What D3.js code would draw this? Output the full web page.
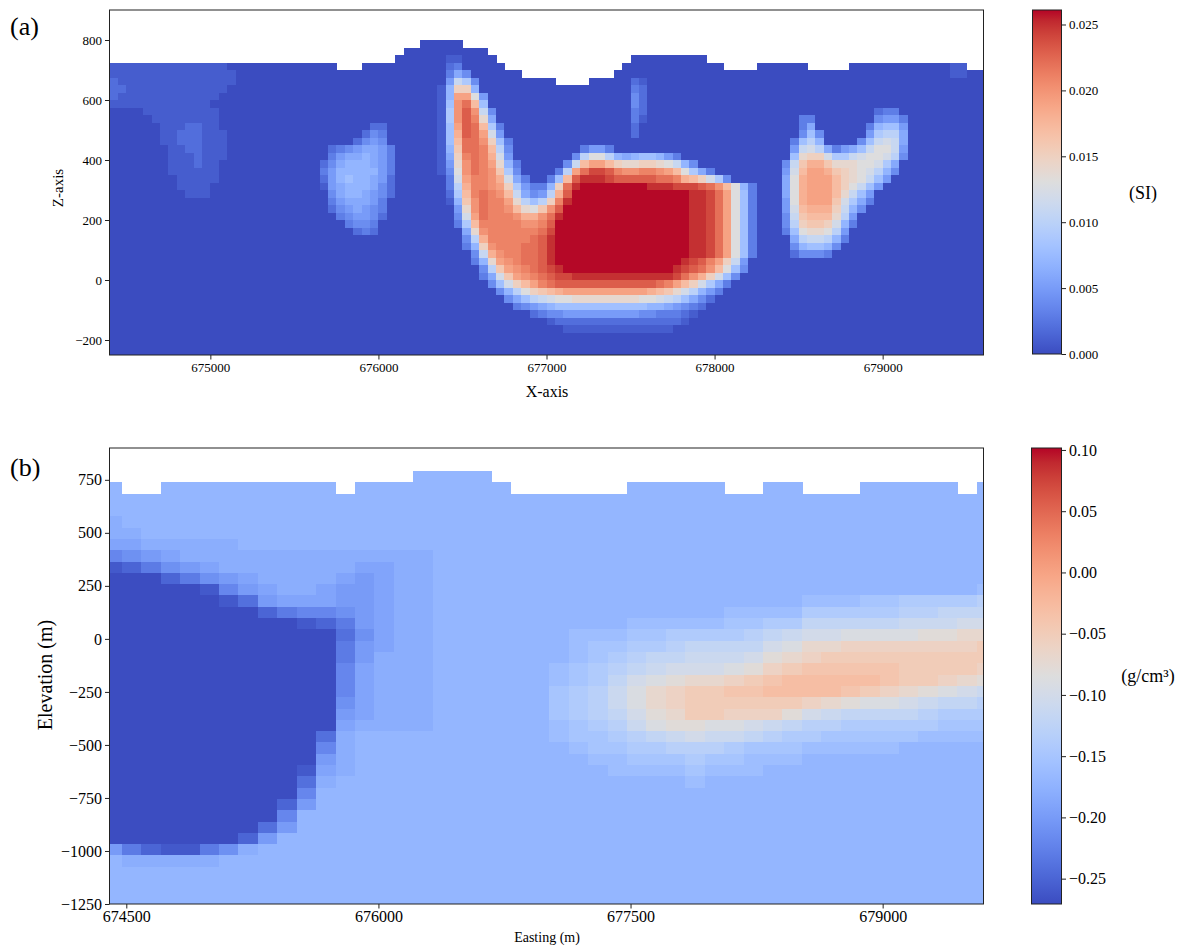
<!DOCTYPE html>
<html>
<head>
<meta charset="utf-8">
<script src="https://cdn.jsdelivr.net/npm/d3@7"></script>
<style>
body { margin: 0; background: #fff; }
text { font-family: "Liberation Serif", "Times New Roman", serif; fill: #000; }
</style>
</head>
<body>
<svg width="1187" height="947"></svg>
<script>
// ---- data ----

// (a) susceptibility section: 50 m x 25 m cells, rows from z = 800 m downward
// one character per cell, value = index * 0.001 SI
var susCodes = "0123456789abcdefghijklmnopq";
var susX0 = 674400, susDx = 50, susZ0 = 800, susDz = 25;
// surface elevation per column (m)
var susTopo = [725,725,725,725,725,725,725,725,725,725,725,725,725,725,725,725,725,725,725,725,
  725,725,725,725,725,725,725,700,700,700,725,725,725,725,750,775,775,800,800,800,
  800,800,775,775,775,750,725,700,700,675,675,675,675,650,650,650,650,675,675,675,
  700,725,750,750,750,750,750,750,750,750,750,725,725,700,700,700,700,725,725,725,
  725,725,725,700,700,700,700,700,725,725,725,725,725,725,725,725,725,725,725,725,
  725,725,700,700];
var susRows = [
  "0000000000 0000000000 0000000000 0000000000 0000000000 0000000000 0000000000 0000000000 0000000000 0000000000 0000",
  "0000000000 0000000000 0000000000 0000000000 0000000000 0000000000 0000000000 0000000000 0000000000 0000000000 0000",
  "0000000000 0000000000 0000000000 0000000000 1100000000 0000000000 0000000000 0000000000 0000000000 0000000000 0000",
  "1111111111 1111000000 0000000000 0000000000 2300000000 0000000000 0000000000 0000000000 0000000000 0000000000 1100",
  "1111111111 1111100000 0000000000 0000000000 3640000000 0000000000 0000000000 0000000000 0000000000 0000000000 1100",
  "2111111111 1111100000 0000000000 0000000000 5b94000000 0000000000 0021000000 0000000000 0000000000 0000000000 0000",
  "2211111111 1111000000 0000000000 0000000001 7ff7000000 0000000000 0032000000 0000000000 0000000000 0000000000 0000",
  "2111111111 1110000000 0000000000 0000000001 7jjd500000 0000000000 0042000000 0000000000 0000000000 0000000000 0000",
  "1111111111 1100000000 0000000000 0000000001 8kmh800000 0000000000 0042000000 0000000000 0000000000 0000000000 0000",
  "0000111111 1110000000 0000000000 0000000001 9knkb40000 0000000000 0032000000 0000000000 0000000000 0233000000 0000",
  "0000011111 1110000000 0000000000 0000000001 9knle60000 0000000000 0031000000 0000000000 0033000000 0455300000 0000",
  "0000001112 2110000000 0000000000 0220000001 8jnmh93000 0000000000 0020000000 0000000000 0036000000 3788500000 0000",
  "0000001122 2111000000 0000000000 2430000001 8inmjc5000 0000000000 0020000000 0000000000 0048400000 59aa600000 0000",
  "0000001122 2111000000 0000000002 4540000001 8hmmkf8300 0000000000 0000000000 0000000000 038a700004 8bcb600000 0000",
  "0000000112 2111000000 0000002345 6653000001 7gmmlha400 0000003553 0000000000 0000000000 05bca63568 bddb500000 0000",
  "0000000111 2111000000 0000003566 7653000001 6flmlic500 000004adda 7678875300 0000000000 08effc99bc ddca400000 0000",
  "0000000111 2110000000 0000024677 7653000001 5ekmlje730 00004bhjjh feeffedb74 0000000000 4bgiigeeed dc96000000 0000",
  "0000000111 1110000000 0000035777 7753000001 4dkmlkg940 0003ajmoon lkkllkjhd9 6300000000 5chjjigfed ca74000000 0000",
  "0000000011 1110000000 0000025787 7652000000 3cjllkic63 0038hnpppo nnnnnmmlih fc94000000 6dijjjhfed b850000000 0000",
  "0000000011 1100000000 0000015677 7642000000 3aillkjf95 337fmpqqqq qqqqpppooo nmkhd73000 6dijjjhfdb 8500000000 0000",
  "0000000001 1100000000 0000004677 6542000000 29hlmlkhb6 45ainqqqqq qqqqqqqqqp pomjd83000 6dijjjheb8 5000000000 0000",
  "0000000000 0000000000 0000003566 6530000000 17gkmlljea 8aflpqqqqq qqqqqqqqqp pomjd83000 5dijjjgc96 3000000000 0000",
  "0000000000 0000000000 0000002456 5430000000 05ekmllkhe dgknqqqqqq qqqqqqqqqp pomjd83000 5chiiifb74 0000000000 0000",
  "0000000000 0000000000 0000000345 5420000000 04cjmlllki ikmpqqqqqq qqqqqqqqqp pomjd83000 4bghhhea50 0000000000 0000",
  "0000000000 0000000000 0000000034 4300000000 039hlllllk klnqqqqqqq qqqqqqqqqp pomjd83000 4afggfc730 0000000000 0000",
  "0000000000 0000000000 0000000002 3200000000 006eklllll lmoqqqqqqq qqqqqqqqqp pomjd83000 38deeda500 0000000000 0000",
  "0000000000 0000000000 0000000000 0000000000 004ailllll mnpqqqqqqq qqqqqqqqqp pomjd83000 06abba7300 0000000000 0000",
  "0000000000 0000000000 0000000000 0000000000 0037fklllm mnpqqqqqqq qqqqqqqqqp pomjd83000 0478874000 0000000000 0000",
  "0000000000 0000000000 0000000000 0000000000 0004bikllm mnpqqqqqqq qqqqqqqqqp pomjd83000 0244430000 0000000000 0000",
  "0000000000 0000000000 0000000000 0000000000 00037ejklm mnpqqqqqqq qqqqqqqqpo nljfb50000 0000000000 0000000000 0000",
  "0000000000 0000000000 0000000000 0000000000 00004agjkl mnopqqqqqq qqqqqqqpon mkhd840000 0000000000 0000000000 0000",
  "0000000000 0000000000 0000000000 0000000000 000036cgjk lmnooppppp pppppppomk ifc8400000 0000000000 0000000000 0000",
  "0000000000 0000000000 0000000000 0000000000 0000048cfh jlmnnnnnnn nnnnnmljhf c963000000 0000000000 0000000000 0000",
  "0000000000 0000000000 0000000000 0000000000 00000047ad fghijjjjjj jjjjihgeca 7530000000 0000000000 0000000000 0000",
  "0000000000 0000000000 0000000000 0000000000 0000000468 abcddeeeee eeeddcba86 4200000000 0000000000 0000000000 0000",
  "0000000000 0000000000 0000000000 0000000000 0000000034 5678888888 8888776543 2000000000 0000000000 0000000000 0000",
  "0000000000 0000000000 0000000000 0000000000 0000000000 2344555555 5554433321 0000000000 0000000000 0000000000 0000",
  "0000000000 0000000000 0000000000 0000000000 0000000000 0012222222 2222222210 0000000000 0000000000 0000000000 0000",
  "0000000000 0000000000 0000000000 0000000000 0000000000 0000111111 1111111000 0000000000 0000000000 0000000000 0000",
  "0000000000 0000000000 0000000000 0000000000 0000000000 0000000000 0000000000 0000000000 0000000000 0000000000 0000",
  "0000000000 0000000000 0000000000 0000000000 0000000000 0000000000 0000000000 0000000000 0000000000 0000000000 0000",
  "0000000000 0000000000 0000000000 0000000000 0000000000 0000000000 0000000000 0000000000 0000000000 0000000000 0000"
];

// (b) density contrast section: ~115.6 m x 53.3 m cells, rows from z = 791 m downward
// one character per cell, value = -0.27 + index * 0.01 g/cm3
var denCodes = "0123456789abcdefghijklmnopqrstuvwxyz";
var denX0 = 674358, denDx = 115.6, denZ0 = 791, denDz = 53.3;
var denTopo = [738,684,684,738,738,738,738,738,738,738,738,738,684,738,738,738,791,791,791,791,
  738,684,684,684,684,684,684,738,738,738,738,738,684,684,738,738,684,684,684,738,
  738,738,738,738,684,738];
var denRows = [
  "aaaaaaaaaa aaaaaaaaaa aaaaaaaaaa aaaaaaaaaa aaaaaa",
  "aaaaaaaaaa aaaaaaaaaa aaaaaaaaaa aaaaaaaaaa aaaaaa",
  "aaaaaaaaaa aaaaaaaaaa aaaaaaaaaa aaaaaaaaaa aaaaaa",
  "aaaaaaaaaa aaaaaaaaaa aaaaaaaaaa aaaaaaaaaa aaaaaa",
  "9aaaaaaaaa aaaaaaaaaa aaaaaaaaaa aaaaaaaaaa aaaaaa",
  "99aaaaaaaa aaaaaaaaaa aaaaaaaaaa aaaaaaaaaa aaaaaa",
  "8899999aaa aaaaaaaaaa aaaaaaaaaa aaaaaaaaaa aaaaaa",
  "5678999999 9999999aaa aaaaaaaaaa aaaaaaaaaa aaaaaa",
  "1246789999 9998899aaa aaaaaaaaaa aaaaaaaaaa aaaaaa",
  "0002467899 9987899aaa aaaaaaaaaa aaaaaaaaaa aaaaaa",
  "0000015789 9877899aaa aaaaaaaaaa aaaaaaaaaa aaaaab",
  "0000001378 8877899aaa aaaaaaaaaa aaaaaabbbc cdddde",
  "0000000024 5567899aaa aaaaaaaaaa aabbbbdddd deefff",
  "0000000000 1247899aaa aaaaaaabbb bbccddffff fggghh",
  "0000000000 0036899aaa aaaabbbccd dddefghhii iijjkk",
  "0000000000 0047899aaa aaaabccdde ffffhikkll lllllm",
  "0000000000 0047999aaa aaaabcdeff ggghjklmmm mmmmmm",
  "0000000000 0058999aaa aaabcdefgh hhijlmnnnn nmmmml",
  "0000000000 0058999aaa aaabcdfhij kklmnooooo nmmlkj",
  "0000000000 0058999aaa aaacdegikl mmnnoooonm lkjihg",
  "0000000000 0068999aaa aaacdegikl mmmmmmlkji ihgffe",
  "0000000000 0078999aaa aaacdefhjk mmllljhgff ffeddd",
  "0000000000 0089999aaa aaabcdegij jiihgfeedd dddccc",
  "0000000000 039aaaaaaa aaabccdefg hggfeddccc ccbbbb",
  "0000000000 059aaaaaaa aaaabccdde eedcccbbbb baaaaa",
  "0000000000 079aaaaaaa aaaaabbccc dccbbbaaaa aaaaaa",
  "0000000000 189aaaaaaa aaaaaabbbb cbbbaaaaaa aaaaaa",
  "0000000000 39aaaaaaaa aaaaaaaaaa baaaaaaaaa aaaaaa",
  "0000000000 5aaaaaaaaa aaaaaaaaaa aaaaaaaaaa aaaaaa",
  "0000000002 7aaaaaaaaa aaaaaaaaaa aaaaaaaaaa aaaaaa",
  "0000000005 aaaaaaaaaa aaaaaaaaaa aaaaaaaaaa aaaaaa",
  "0000000037 aaaaaaaaaa aaaaaaaaaa aaaaaaaaaa aaaaaa",
  "000000027a aaaaaaaaaa aaaaaaaaaa aaaaaaaaaa aaaaaa",
  "74211469aa aaaaaaaaaa aaaaaaaaaa aaaaaaaaaa aaaaaa",
  "a99999aaaa aaaaaaaaaa aaaaaaaaaa aaaaaaaaaa aaaaaa",
  "aaaaaaaaaa aaaaaaaaaa aaaaaaaaaa aaaaaaaaaa aaaaaa",
  "aaaaaaaaaa aaaaaaaaaa aaaaaaaaaa aaaaaaaaaa aaaaaa",
  "aaaaaaaaaa aaaaaaaaaa aaaaaaaaaa aaaaaaaaaa aaaaaa",
  "aaaaaaaaaa aaaaaaaaaa aaaaaaaaaa aaaaaaaaaa aaaaaa"
];

var xTicksA = [675000, 676000, 677000, 678000, 679000];
var zTicksA = [-200, 0, 200, 400, 600, 800];
var cbTicksA = [0, 0.005, 0.010, 0.015, 0.020, 0.025];
var xTicksB = [674500, 676000, 677500, 679000];
var zTicksB = [-1250, -1000, -750, -500, -250, 0, 250, 500, 750];
var cbTicksB = [-0.25, -0.20, -0.15, -0.10, -0.05, 0.00, 0.05, 0.10];

// matplotlib "coolwarm"
var coolwarm = ["#3b4cc0","#445acc","#4d68d7","#5775e1","#6282ea","#6c8ef1","#779af7","#82a5fb",
  "#8db0fe","#98b9ff","#a3c2ff","#aec9fd","#b8d0f9","#c2d5f4","#ccd9ee","#d5dbe6","#dddddd",
  "#e5d8d1","#ecd3c5","#f1ccb8","#f5c4ac","#f7bba0","#f7b194","#f7a687","#f49a7b","#f18d6f",
  "#ec7f63","#e57058","#de604d","#d55042","#cb3e38","#c0282f","#b40426"];

// ---- drawing ----
var svg = d3.select("svg");
var defs = svg.append("defs");

function cmap(lo, hi) {
  return d3.scaleLinear()
    .domain(coolwarm.map(function(c, i) { return lo + (hi - lo) * i / (coolwarm.length - 1); }))
    .range(coolwarm)
    .clamp(true);
}

function toCells(rows, topo, x0, dx, z0, dz, decode) {
  var out = [];
  rows.forEach(function(row, i) {
    var chars = row.replace(/ /g, "").split("");
    if (chars.length !== topo.length) console.error("row " + i + " has " + chars.length + " cells");
    chars.forEach(function(ch, j) {
      var top = z0 - i * dz;
      if (top > topo[j] + 1) return;
      out.push({ x0: x0 + j * dx, x1: x0 + (j + 1) * dx, top: top, bot: top - dz, v: decode(ch) });
    });
  });
  return out;
}

function styleAxis(g, size) {
  g.select(".domain").remove();
  g.selectAll(".tick line").attr("stroke", "#222").attr("stroke-width", 1);
  g.selectAll(".tick text").attr("fill", "#000")
    .style("font-family", "'Liberation Serif', serif").style("font-size", size + "px");
}

function drawPanel(id, cells, x, z, color) {
  var x0 = x.range()[0], x1 = x.range()[1], y0 = z.range()[1], y1 = z.range()[0];
  defs.append("clipPath").attr("id", id).append("rect")
    .attr("x", x0).attr("y", y0).attr("width", x1 - x0).attr("height", y1 - y0);

  svg.append("g").attr("clip-path", "url(#" + id + ")").attr("shape-rendering", "crispEdges")
    .selectAll("rect").data(cells).enter().append("rect")
    .attr("x", function(d) { return x(d.x0); })
    .attr("y", function(d) { return z(d.top); })
    .attr("width", function(d) { return x(d.x1) - x(d.x0) + 0.6; })
    .attr("height", function(d) { return z(d.bot) - z(d.top) + 0.6; })
    .attr("fill", function(d) { return color(d.v); });

  svg.append("rect").attr("x", x0).attr("y", y0).attr("width", x1 - x0).attr("height", y1 - y0)
    .attr("fill", "none").attr("stroke", "#222").attr("stroke-width", 1);
}

function drawColorbar(id, x0, w, scale, ticks, fmt, size) {
  var y0 = scale.range()[1], y1 = scale.range()[0], d = scale.domain();
  var col = cmap(d[0], d[1]);
  var grad = defs.append("linearGradient").attr("id", id)
    .attr("x1", 0).attr("y1", 1).attr("x2", 0).attr("y2", 0);
  coolwarm.forEach(function(c, i) {
    grad.append("stop").attr("offset", i / (coolwarm.length - 1)).attr("stop-color", c);
  });
  svg.append("rect").attr("x", x0).attr("y", y0).attr("width", w).attr("height", y1 - y0)
    .attr("fill", "url(#" + id + ")").attr("stroke", "#222").attr("stroke-width", 1);
  svg.append("g").attr("transform", "translate(" + (x0 + w) + ",0)")
    .call(d3.axisRight(scale).tickValues(ticks).tickFormat(d3.format(fmt)).tickSize(4.5).tickPadding(3))
    .call(styleAxis, size);
  return col;
}

// panel (a)
var xA = d3.scaleLinear().domain([674400, 679600]).range([109.5, 983.5]);
var zA = d3.scaleLinear().domain([-250, 900]).range([355, 10]);
var sA = d3.scaleLinear().domain([0, 0.0261]).range([354, 10]);
var colA = drawColorbar("cbA", 1032.5, 29, sA, cbTicksA, ".3f", 13);
var cellsA = toCells(susRows, susTopo, susX0, susDx, susZ0, susDz,
  function(ch) { return susCodes.indexOf(ch) * 0.001; });
drawPanel("clipA", cellsA, xA, zA, colA);

svg.append("g").attr("transform", "translate(0,355)")
  .call(d3.axisBottom(xA).tickValues(xTicksA).tickFormat(d3.format("d")).tickSize(4.5).tickPadding(3))
  .call(styleAxis, 13);
svg.append("g").attr("transform", "translate(109.5,0)")
  .call(d3.axisLeft(zA).tickValues(zTicksA).tickFormat(d3.format("d")).tickSize(4.5).tickPadding(3))
  .call(styleAxis, 13);

// panel (b)
var xB = d3.scaleLinear().domain([674400, 679600]).range([109.5, 983.5]);
var zB = d3.scaleLinear().domain([-1250, 900]).range([904, 448]);
var sB = d3.scaleLinear().domain([-0.2707, 0.1016]).range([904, 448]);
var colB = drawColorbar("cbB", 1031.5, 30, sB, cbTicksB, ".2f", 16);
var cellsB = toCells(denRows, denTopo, denX0, denDx, denZ0, denDz,
  function(ch) { return -0.27 + denCodes.indexOf(ch) * 0.01; });
drawPanel("clipB", cellsB, xB, zB, colB);

svg.append("g").attr("transform", "translate(0,904)")
  .call(d3.axisBottom(xB).tickValues(xTicksB).tickFormat(d3.format("d")).tickSize(4.5).tickPadding(2))
  .call(styleAxis, 16);
svg.append("g").attr("transform", "translate(109.5,0)")
  .call(d3.axisLeft(zB).tickValues(zTicksB).tickFormat(d3.format("d")).tickSize(4.5).tickPadding(3))
  .call(styleAxis, 16);

// labels
svg.append("text").attr("x", 10).attr("y", 35).style("font-size", "26px").text("(a)");
svg.append("text").attr("x", 10).attr("y", 476).style("font-size", "26px").text("(b)");
svg.append("text").attr("x", 547).attr("y", 397).attr("text-anchor", "middle")
  .style("font-size", "16px").text("X-axis");
svg.append("text").attr("transform", "translate(63,188) rotate(-90)").attr("text-anchor", "middle")
  .style("font-size", "15px").text("Z-axis");
svg.append("text").attr("x", 547).attr("y", 942).attr("text-anchor", "middle")
  .style("font-size", "14px").text("Easting (m)");
svg.append("text").attr("transform", "translate(52,675) rotate(-90)").attr("text-anchor", "middle")
  .style("font-size", "20px").text("Elevation (m)");
svg.append("text").attr("x", 1143).attr("y", 199).attr("text-anchor", "middle")
  .style("font-size", "18px").text("(SI)");
svg.append("text").attr("x", 1148).attr("y", 682).attr("text-anchor", "middle")
  .style("font-size", "18px").text("(g/cm³)");
</script>
</body>
</html>
